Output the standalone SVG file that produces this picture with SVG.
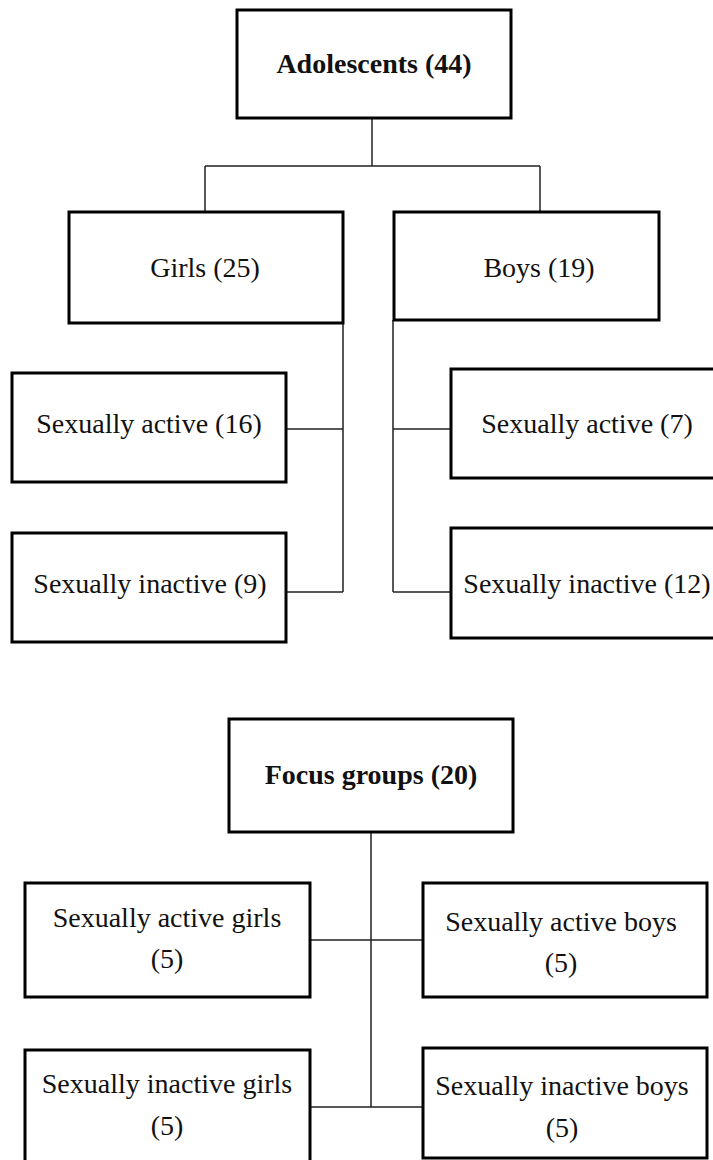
<svg xmlns="http://www.w3.org/2000/svg" width="713" height="1160" viewBox="0 0 713 1160">
<style>
.box{fill:#fff;stroke:#000;stroke-width:3}
.ln{fill:none;stroke:#222;stroke-width:1.5}
text{font-family:"Liberation Serif","Times New Roman",serif;font-size:28px;fill:#111;text-anchor:middle}
.b{font-weight:bold}
</style>
<rect width="713" height="1160" fill="#fff"/>
<g id="connectors">
<path class="ln" d="M372 118V166M205 166H540M205 166V212M540 166V212"/>
<path class="ln" d="M343 323V592M286 429H343M286 592H343"/>
<path class="ln" d="M393 320V592M393 429H451M393 592H451"/>
<path class="ln" d="M371 832V1107M310 940H423M310 1107H423"/>
</g>
<g id="n-adolescents"><rect class="box" x="237" y="10" width="274" height="108"/><text class="b" x="374" y="73">Adolescents (44)</text></g>
<g id="n-girls"><rect class="box" x="69" y="212" width="274" height="111"/><text x="205" y="277">Girls (25)</text></g>
<g id="n-boys"><rect class="box" x="394" y="212" width="265" height="108"/><text x="539" y="277">Boys (19)</text></g>
<g id="n-girls-active"><rect class="box" x="12" y="373" width="274" height="109"/><text x="149" y="433">Sexually active (16)</text></g>
<g id="n-girls-inactive"><rect class="box" x="12" y="533" width="274" height="109"/><text x="150" y="593">Sexually inactive (9)</text></g>
<g id="n-boys-active"><rect class="box" x="451" y="369" width="275" height="109"/><text x="587" y="433">Sexually active (7)</text></g>
<g id="n-boys-inactive"><rect class="box" x="451" y="528" width="275" height="110"/><text x="587" y="593">Sexually inactive (12)</text></g>
<g id="n-focus"><rect class="box" x="229" y="719" width="284" height="113"/><text class="b" x="371" y="784">Focus groups (20)</text></g>
<g id="n-fg-active-girls"><rect class="box" x="25" y="883" width="285" height="114"/><text x="167" y="927">Sexually active girls</text><text x="167" y="968">(5)</text></g>
<g id="n-fg-active-boys"><rect class="box" x="423" y="883" width="284" height="114"/><text x="561" y="931">Sexually active boys</text><text x="561" y="972">(5)</text></g>
<g id="n-fg-inactive-girls"><rect class="box" x="25" y="1050" width="285" height="115"/><text x="167" y="1093">Sexually inactive girls</text><text x="167" y="1135">(5)</text></g>
<g id="n-fg-inactive-boys"><rect class="box" x="423" y="1048" width="284" height="110"/><text x="562" y="1095">Sexually inactive boys</text><text x="562" y="1137">(5)</text></g>
</svg>
